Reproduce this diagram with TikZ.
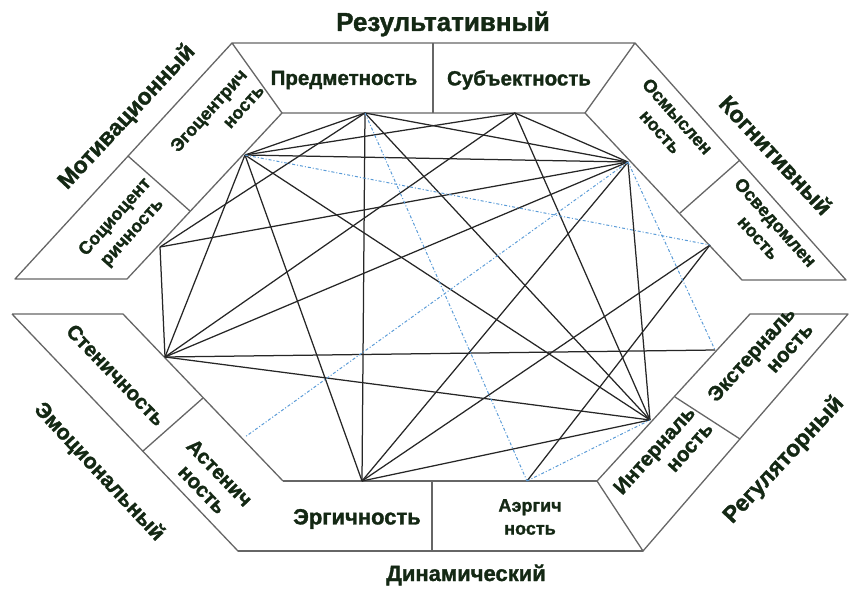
\documentclass[tikz,border=0pt]{standalone}
\usepackage{fontspec}
\setmainfont{Liberation Sans}[BoldFeatures={FakeBold=1.4}]
\definecolor{inkgreen}{RGB}{20,40,20}
\definecolor{linkblue}{RGB}{90,155,215}

\begin{document}
\begin{tikzpicture}[x=1pt, y=-1pt,
    frame/.style={draw=black!60, line width=1.3pt, line join=round},
    link/.style={draw=black!85, line width=1.25pt},
    weak/.style={draw=linkblue, line width=1pt, dash pattern=on 3pt off 2pt on 1pt off 2pt},
    cell/.style={font=\fontsize{18}{23}\selectfont\bfseries, text=inkgreen, align=center, inner sep=0pt},
    big cell/.style={cell, font=\fontsize{20.5}{24}\selectfont\bfseries},
    side/.style={font=\fontsize{23}{26}\selectfont\bfseries, text=inkgreen, inner sep=0pt}]
          \useasboundingbox (0,0) rectangle (849,592);

          % frame of the hexagon
          \draw [frame] (232,43) -- (635,43) -- (585,113) -- (282,113) -- cycle;
          \draw [frame] (433,43) -- (433,113);
          \draw [frame] (635,43) -- (846,280) -- (742,280) -- (585,113);
          \draw [frame] (740,160) -- (680,213);
          \draw [frame] (848,314) -- (643,551) -- (597,481) -- (750,314) -- cycle;
          \draw [frame] (675,397) -- (740,439);
          \draw [frame] (283,481) -- (597,481) (643,551) -- (238,551) -- cycle;
          \draw [frame] (432,481) -- (432,551);
          \draw [frame] (12,314) -- (123,314) -- (283,481) (238,551) -- (12,314);
          \draw [frame] (143,451) -- (203,398);
          \draw [frame] (232,43) -- (15,279) -- (127,279) -- (282,113);
          \draw [frame] (128,156) -- (190,211);

          % cells
          \node (predm) [big cell] at (344,80) {Предметность};
          \node (subj) [big cell] at (519,80) {Субъектность};
          \node (ego) [cell, rotate=48, align=right] at (217,118) {Эгоцентрич\\ность};
          \node (socio) [cell, rotate=48] at (124,225) {Социоцент\\ричность};
          \node (osmysl) [cell, rotate=-48] at (669,124) {Осмыслен\\ность};
          \node (osved) [cell, rotate=-48] at (767,230) {Осведомлен\\ность};
          \node (sten) [big cell, rotate=-46] at (116,375) {Стеничность};
          \node (asten) [big cell, rotate=-46] at (211,481) {Астенич\\ность};
          \node (erg) [big cell, font=\fontsize{22}{24}\selectfont\bfseries] at (357,519) {Эргичность};
          \node (aerg) [cell] at (530,517) {Аэргич\\ность};
          \node (intern) [big cell, rotate=48, align=right] at (663,458) {Интерналь\\ность};
          \node (extern) [big cell, rotate=48, align=right] at (760,362) {Экстерналь\\ность};

          % blocks
          \node (res) [side, font=\fontsize{26}{28}\selectfont\bfseries] at (443,24) {Результативный};
          \node (cog) [side, rotate=-47] at (776,155) {Когнитивный};
          \node (reg) [side, rotate=47] at (784,460) {Регуляторный};
          \node (dyn) [side, font=\fontsize{22}{24}\selectfont\bfseries] at (466,575) {Динамический};
          \node (emo) [side, font=\fontsize{21.5}{24}\selectfont\bfseries, rotate=-47] at (99,472) {Эмоциональный};
          \node (mot) [side, rotate=47] at (127,117) {Мотивационный};

          % points of the links
          \coordinate (a) at (365,113);
          \coordinate (b) at (515,113);
          \coordinate (c) at (245,155);
          \coordinate (d) at (628,162);
          \coordinate (e) at (160,247);
          \coordinate (f) at (710,245);
          \coordinate (g) at (165,357);
          \coordinate (h) at (245,437);
          \coordinate (i) at (362,481);
          \coordinate (j) at (527,481);
          \coordinate (k) at (650,420);
          \coordinate (l) at (715,350);

          \path [link]
              (a) edge (c) (a) edge (e) (a) edge (i) (a) edge (k) (a) edge (d)
              (b) edge (c) (b) edge (g) (b) edge (d) (b) edge (k)
              (c) edge (d) (c) edge (g) (c) edge (i) (c) edge (k)
              (d) edge (e) (d) edge (g) (d) edge (i) (d) edge (k)
              (e) edge (g)
              (f) edge (i) (f) edge (j)
              (g) edge (l) (g) edge (k)
              (i) edge (k)
              ;
          \path [weak]
              (c) edge (f) (a) edge (j) (d) edge (h) (d) edge (l) (j) edge (k)
              ;
      \end{tikzpicture}
\end{document}
